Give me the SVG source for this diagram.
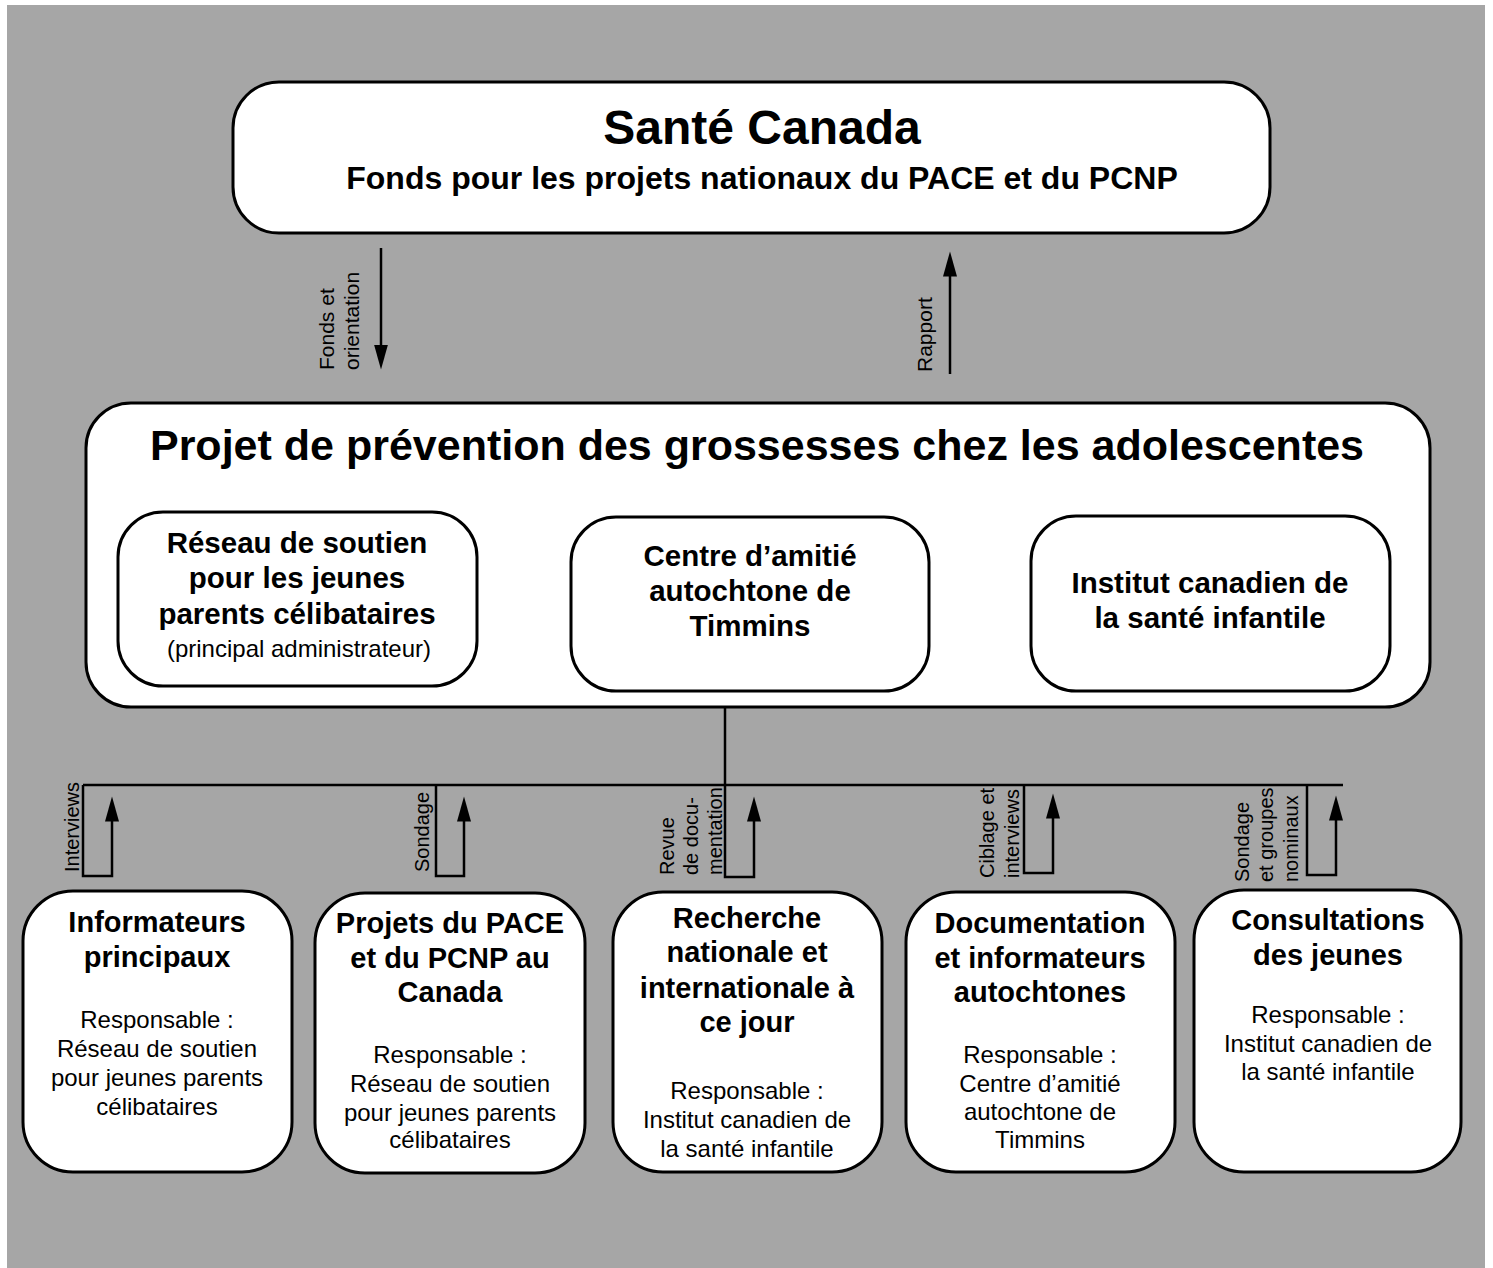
<svg xmlns="http://www.w3.org/2000/svg" width="1493" height="1268" viewBox="0 0 1493 1268">
<style>
.box{fill:#fff;stroke:#000;stroke-width:3}
.t{font-family:"Liberation Sans",Arial,sans-serif;fill:#000;text-anchor:middle}
.b{font-weight:bold}
.ln{fill:none;stroke:#000;stroke-width:2.5}
.lab{font-family:"Liberation Sans",Arial,sans-serif;font-size:20px;fill:#000}
.lab2{font-size:21px}
</style>
<defs>
<marker id="ah" markerUnits="userSpaceOnUse" markerWidth="26" markerHeight="14" viewBox="0 0 26 14" refX="0.5" refY="7" orient="auto">
<polygon points="0,0 25,7 0,14" fill="#000"/>
</marker>
</defs>
<rect x="0" y="0" width="1493" height="1268" fill="#fff"/>
<rect x="7" y="5" width="1478" height="1263" fill="#a6a6a6"/>

<g id="sante-canada">
<rect class="box" x="233" y="82" width="1037" height="151" rx="46"/>
<text class="t b" x="762" y="144" font-size="48">Santé Canada</text>
<text class="t b" x="762" y="189" font-size="32">Fonds pour les projets nationaux du PACE et du PCNP</text>
</g>

<g id="projet">
<rect class="box" x="86" y="403" width="1344" height="304" rx="45"/>
<text class="t b" x="757" y="460" font-size="43">Projet de prévention des grossesses chez les adolescentes</text>
</g>

<g id="reseau">
<rect class="box" x="118" y="512" width="359" height="174" rx="45"/>
<text class="t b" x="297" y="553" font-size="29.5">Réseau de soutien</text>
<text class="t b" x="297" y="588" font-size="29.5">pour les jeunes</text>
<text class="t b" x="297" y="624" font-size="29.5">parents célibataires</text>
<text class="t" x="299" y="657" font-size="24">(principal administrateur)</text>
</g>

<g id="centre">
<rect class="box" x="571" y="517" width="358" height="174" rx="45"/>
<text class="t b" x="750" y="566" font-size="29.5">Centre d’amitié</text>
<text class="t b" x="750" y="601" font-size="29.5">autochtone de</text>
<text class="t b" x="750" y="636" font-size="29.5">Timmins</text>
</g>

<g id="institut">
<rect class="box" x="1031" y="516" width="359" height="175" rx="45"/>
<text class="t b" x="1210" y="593" font-size="29.5">Institut canadien de</text>
<text class="t b" x="1210" y="628" font-size="29.5">la santé infantile</text>
</g>

<g id="informateurs">
<rect class="box" x="23" y="891" width="269" height="281" rx="50"/>
<text class="t b" x="157" y="932" font-size="29">Informateurs</text>
<text class="t b" x="157" y="967" font-size="29">principaux</text>
<text class="t" x="157" y="1028" font-size="24">Responsable :</text>
<text class="t" x="157" y="1057" font-size="24">Réseau de soutien</text>
<text class="t" x="157" y="1086" font-size="24">pour jeunes parents</text>
<text class="t" x="157" y="1115" font-size="24">célibataires</text>
</g>

<g id="projets-pace">
<rect class="box" x="315" y="893" width="270" height="280" rx="50"/>
<text class="t b" x="450" y="933" font-size="29">Projets du PACE</text>
<text class="t b" x="450" y="968" font-size="29">et du PCNP au</text>
<text class="t b" x="450" y="1002" font-size="29">Canada</text>
<text class="t" x="450" y="1063" font-size="24">Responsable :</text>
<text class="t" x="450" y="1092" font-size="24">Réseau de soutien</text>
<text class="t" x="450" y="1121" font-size="24">pour jeunes parents</text>
<text class="t" x="450" y="1148" font-size="24">célibataires</text>
</g>

<g id="recherche">
<rect class="box" x="613" y="892" width="269" height="280" rx="50"/>
<text class="t b" x="747" y="928" font-size="29">Recherche</text>
<text class="t b" x="747" y="962" font-size="29">nationale et</text>
<text class="t b" x="747" y="998" font-size="29">internationale à</text>
<text class="t b" x="747" y="1032" font-size="29">ce jour</text>
<text class="t" x="747" y="1099" font-size="24">Responsable :</text>
<text class="t" x="747" y="1128" font-size="24">Institut canadien de</text>
<text class="t" x="747" y="1157" font-size="24">la santé infantile</text>
</g>

<g id="documentation">
<rect class="box" x="906" y="892" width="269" height="280" rx="50"/>
<text class="t b" x="1040" y="933" font-size="29">Documentation</text>
<text class="t b" x="1040" y="968" font-size="29">et informateurs</text>
<text class="t b" x="1040" y="1002" font-size="29">autochtones</text>
<text class="t" x="1040" y="1063" font-size="24">Responsable :</text>
<text class="t" x="1040" y="1092" font-size="24">Centre d’amitié</text>
<text class="t" x="1040" y="1120" font-size="24">autochtone de</text>
<text class="t" x="1040" y="1148" font-size="24">Timmins</text>
</g>

<g id="consultations">
<rect class="box" x="1194" y="890" width="267" height="282" rx="50"/>
<text class="t b" x="1328" y="930" font-size="29">Consultations</text>
<text class="t b" x="1328" y="965" font-size="29">des jeunes</text>
<text class="t" x="1328" y="1023" font-size="24">Responsable :</text>
<text class="t" x="1328" y="1052" font-size="24">Institut canadien de</text>
<text class="t" x="1328" y="1080" font-size="24">la santé infantile</text>
</g>

<g id="connectors">
<line class="ln" x1="381" y1="248" x2="381" y2="345" marker-end="url(#ah)"/>
<line class="ln" x1="950" y1="374" x2="950" y2="276" marker-end="url(#ah)"/>
<text class="lab lab2" transform="rotate(-90 334 370)" x="334" y="370">Fonds et</text>
<text class="lab lab2" transform="rotate(-90 359 370)" x="359" y="370">orientation</text>
<text class="lab lab2" transform="rotate(-90 932 372)" x="932" y="372">Rapport</text>

<line class="ln" x1="725" y1="707" x2="725" y2="785"/>
<line class="ln" x1="83" y1="785" x2="1343" y2="785"/>

<polyline class="ln" points="83,785 83,876 112,876 112,821" marker-end="url(#ah)"/>
<polyline class="ln" points="436,785 436,876 464,876 464,821" marker-end="url(#ah)"/>
<polyline class="ln" points="725,785 725,877 754,877 754,821" marker-end="url(#ah)"/>
<polyline class="ln" points="1024,785 1024,873 1053,873 1053,818" marker-end="url(#ah)"/>
<polyline class="ln" points="1307,785 1307,875 1336,875 1336,820" marker-end="url(#ah)"/>

<text class="lab" transform="rotate(-90 79 872)" x="79" y="872">Interviews</text>
<text class="lab" transform="rotate(-90 429 872)" x="429" y="872">Sondage</text>
<text class="lab" transform="rotate(-90 674 875)" x="674" y="875">Revue</text>
<text class="lab" transform="rotate(-90 698 875)" x="698" y="875">de docu-</text>
<text class="lab" transform="rotate(-90 722 875)" x="722" y="875">mentation</text>
<text class="lab" transform="rotate(-90 994 878)" x="994" y="878">Ciblage et</text>
<text class="lab" transform="rotate(-90 1019 878)" x="1019" y="878">interviews</text>
<text class="lab" transform="rotate(-90 1249 882)" x="1249" y="882">Sondage</text>
<text class="lab" transform="rotate(-90 1273 882)" x="1273" y="882">et groupes</text>
<text class="lab" transform="rotate(-90 1298 882)" x="1298" y="882">nominaux</text>
</g>
</svg>
